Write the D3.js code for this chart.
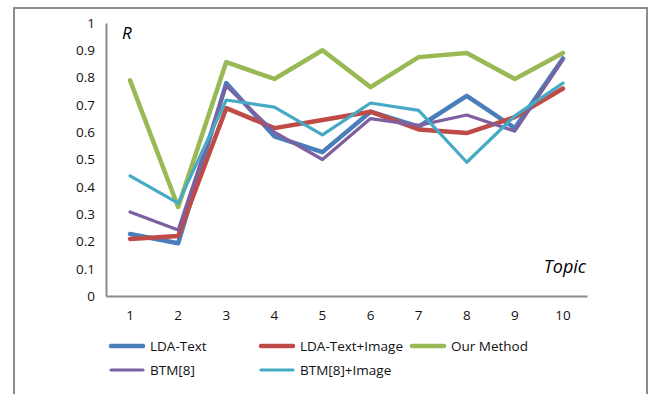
<!DOCTYPE html>
<html>
<head>
<meta charset="utf-8">
<script src="https://cdn.jsdelivr.net/npm/d3@7"></script>
<style>
  body { margin: 0; background: #fff; }
  svg { display: block; font-family: "Open Sans", "Noto Sans", sans-serif; }
</style>
</head>
<body>
<div id="chart"></div>
<script>
// data
var topics = ["1", "2", "3", "4", "5", "6", "7", "8", "9", "10"];
var ldaText      = [0.227, 0.193, 0.78, 0.585, 0.527, 0.675, 0.62, 0.733, 0.615, 0.87];
var ldaTextImage = [0.209, 0.22, 0.688, 0.615, 0.645, 0.675, 0.61, 0.597, 0.655, 0.76];
var ourMethod    = [0.79, 0.326, 0.857, 0.795, 0.9, 0.765, 0.875, 0.89, 0.795, 0.89];
var btm          = [0.308, 0.242, 0.77, 0.6, 0.5, 0.65, 0.625, 0.663, 0.604, 0.865];
var btmImage     = [0.44, 0.34, 0.718, 0.692, 0.59, 0.707, 0.68, 0.49, 0.66, 0.78];
var yTicks = [0, 0.1, 0.2, 0.3, 0.4, 0.5, 0.6, 0.7, 0.8, 0.9, 1];

var series = [
  {name: "LDA-Text", values: ldaText, color: "#4a7ebb", w: 4.5},
  {name: "LDA-Text+Image", values: ldaTextImage, color: "#be4b48", w: 4.5},
  {name: "Our Method", values: ourMethod, color: "#98b954", w: 4.5},
  {name: "BTM[8]", values: btm, color: "#7d60a0", w: 3.2},
  {name: "BTM[8]+Image", values: btmImage, color: "#46aac5", w: 3.2}
];

var W = 652, H = 394;
var svg = d3.select("#chart").append("svg")
    .attr("width", W)
    .attr("height", H);

// outer frame
svg.append("rect")
    .attr("x", 14).attr("y", 8)
    .attr("width", 633).attr("height", 400)
    .attr("fill", "none")
    .attr("stroke", "#8c8c8c")
    .attr("stroke-width", 2);

var x = d3.scaleBand().domain(topics).range([106, 587]);
var y = d3.scaleLinear().domain([0, 1]).range([296, 23]);

// axes
var xAxis = svg.append("g")
    .attr("transform", "translate(0," + y(0) + ")")
    .call(d3.axisBottom(x).tickSize(0).tickPadding(14));
var yAxis = svg.append("g")
    .attr("transform", "translate(" + x.range()[0] + ",0)")
    .call(d3.axisLeft(y).tickValues(yTicks).tickSize(0).tickPadding(11).tickFormat(d3.format("")));

[xAxis, yAxis].forEach(function(a) {
  a.select(".domain").attr("stroke", "#8c8c8c").attr("stroke-width", 2);
  a.selectAll("text").attr("font-size", 13.5).attr("fill", "#111")
    .attr("font-family", "'Open Sans', sans-serif");
});

// axis titles
svg.append("text")
    .attr("x", 122).attr("y", 39)
    .attr("font-size", 17).attr("font-style", "italic")
    .text("R");
svg.append("text")
    .attr("x", 586).attr("y", 273)
    .attr("text-anchor", "end")
    .attr("font-size", 18).attr("font-style", "italic")
    .text("Topic");

// lines
var line = d3.line()
    .x(function(d, i) { return x(topics[i]) + x.bandwidth() / 2; })
    .y(function(d) { return y(d); });

svg.append("g").selectAll("path")
    .data(series)
    .enter().append("path")
    .attr("d", function(d) { return line(d.values); })
    .attr("fill", "none")
    .attr("stroke", function(d) { return d.color; })
    .attr("stroke-width", function(d) { return d.w; })
    .attr("stroke-linejoin", "round")
    .attr("stroke-linecap", "round");

// legend
var legendPos = [[110, 346], [260, 346], [411, 346], [110, 370], [260, 370]];
var legend = svg.append("g").selectAll("g")
    .data(series)
    .enter().append("g")
    .attr("transform", function(d, i) { return "translate(" + legendPos[i][0] + "," + legendPos[i][1] + ")"; });
legend.append("line")
    .attr("x1", 1).attr("x2", 33)
    .attr("stroke", function(d) { return d.color; })
    .attr("stroke-width", function(d) { return d.w; })
    .attr("stroke-linecap", "round");
legend.append("text")
    .attr("x", 40).attr("dy", "0.35em")
    .attr("font-size", 13.5).attr("fill", "#111")
    .text(function(d) { return d.name; });
</script>
</body>
</html>
